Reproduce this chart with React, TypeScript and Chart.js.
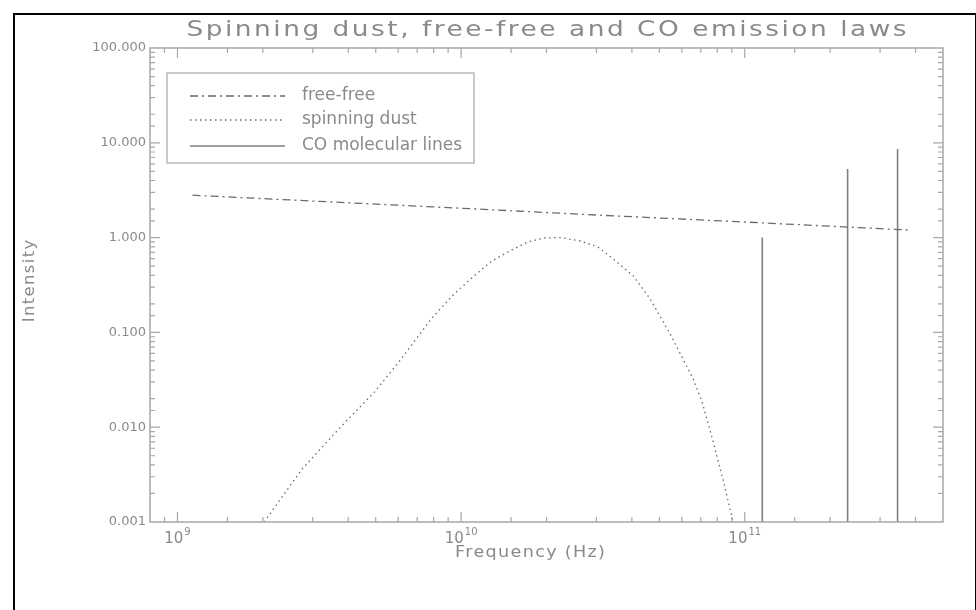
import { useEffect, useRef } from 'react';
import { Chart, registerables } from 'chart.js';
Chart.register(...registerables);

const TEXT = '#8a8a8a';
const AXIS = '#a8a8a8';
const LINE = '#6a6a6a';
const FONT = "'DejaVu Sans', sans-serif";

// Free-free (dash-dot)
const freeFreeFreq = [1.13e9, 3e9, 1e10, 3e10, 1e11, 3.8e11];
const freeFreeIntensity = [2.8, 2.43, 2.04, 1.73, 1.46, 1.2];

// Spinning dust (dotted)
const spinFreq = [2.02e9, 2.75e9, 3.79e9, 4.95e9, 6.15e9, 7.85e9, 9.23e9, 1.08e10, 1.27e10, 1.46e10, 1.72e10, 1.95e10, 2.24e10, 2.64e10, 3.03e10, 3.44e10, 4.05e10, 4.64e10, 5.46e10, 6.58e10, 7.07e10, 7.66e10, 8.37e10, 9.0e10, 9.1e10];
const spinIntensity = [0.001, 0.00362, 0.0103, 0.0235, 0.0525, 0.139, 0.237, 0.366, 0.553, 0.705, 0.9, 0.99, 1.0, 0.92, 0.8, 0.594, 0.394, 0.225, 0.096, 0.0323, 0.0185, 0.0079, 0.00284, 0.00116, 0.001];

// CO molecular lines (vertical)
const coFreq = [1.153e11, 2.305e11, 3.458e11];
const coIntensity = [1.0, 5.3, 8.6];

const xMin = 8e8;
const xMax = 5e11;
const yMin = 0.001;
const yMax = 100;

const TITLE = 'Spinning dust, free-free and CO emission laws';
const X_TITLE = 'Frequency (Hz)';
const Y_TITLE = 'Intensity';

const isPow10 = (v: number) => {
  const l = Math.log10(v);
  return Math.abs(l - Math.round(l)) < 1e-6;
};
const yLabel = (v: number) => (isPow10(v) ? v.toFixed(3) : '');

function spacedText(ctx: any, text: string, x: number, y: number, font: string, spacing: number, align: string, stretch = 1) {
  ctx.save();
  ctx.font = font;
  ctx.letterSpacing = spacing + 'px';
  const w = (ctx.measureText(text).width - spacing) * stretch;
  let sx = x;
  if (align === 'center') sx = x - w / 2;
  else if (align === 'right') sx = x - w;
  ctx.translate(sx, y);
  ctx.scale(stretch, 1);
  ctx.textAlign = 'left';
  ctx.fillText(text, 0, 0);
  ctx.restore();
}

const framePlugin = {
  id: 'idlFrame',
  afterDatasetsDraw(chart: any) {
    const { ctx, chartArea: a, scales } = chart;
    ctx.save();
    ctx.strokeStyle = AXIS;
    ctx.lineWidth = 1.5;
    ctx.strokeRect(a.left, a.top, a.right - a.left, a.bottom - a.top);
    ctx.lineWidth = 1.2;
    ctx.beginPath();
    for (const t of scales.x.ticks) {
      const px = scales.x.getPixelForValue(t.value);
      if (px < a.left + 1 || px > a.right - 1) continue;
      const len = isPow10(t.value) ? 10 : 5;
      ctx.moveTo(px, a.bottom);
      ctx.lineTo(px, a.bottom - len);
      ctx.moveTo(px, a.top);
      ctx.lineTo(px, a.top + len);
    }
    for (const t of scales.y.ticks) {
      const py = scales.y.getPixelForValue(t.value);
      if (py < a.top + 1 || py > a.bottom - 1) continue;
      const len = isPow10(t.value) ? 10 : 5;
      ctx.moveTo(a.left, py);
      ctx.lineTo(a.left + len, py);
      ctx.moveTo(a.right, py);
      ctx.lineTo(a.right - len, py);
    }
    ctx.stroke();
    ctx.restore();
  },
};

const textPlugin = {
  id: 'idlText',
  afterDraw(chart: any) {
    const { ctx, chartArea: a, scales } = chart;
    ctx.save();
    ctx.fillStyle = TEXT;
    ctx.textBaseline = 'middle';
    const titleFont = `22px ${FONT}`;
    const stretch = 1.2;
    ctx.font = titleFont;
    ctx.letterSpacing = '0px';
    const natural = ctx.measureText(TITLE).width * stretch;
    const spacing = Math.max(0, (720 - natural) / (TITLE.length - 1) / stretch);
    spacedText(ctx, TITLE, (a.left + a.right) / 2, 30, titleFont, spacing, 'center', stretch);
    for (const t of scales.x.ticks) {
      if (!isPow10(t.value)) continue;
      const px = scales.x.getPixelForValue(t.value);
      const e = String(Math.round(Math.log10(t.value)));
      ctx.font = `15px ${FONT}`;
      const wb = ctx.measureText('10').width;
      ctx.font = `10px ${FONT}`;
      const we = ctx.measureText(e).width;
      const x0 = px - (wb + we + 1) / 2;
      ctx.textAlign = 'left';
      ctx.font = `15px ${FONT}`;
      ctx.fillText('10', x0, a.bottom + 17);
      ctx.font = `10px ${FONT}`;
      ctx.fillText(e, x0 + wb + 1, a.bottom + 10);
    }
    spacedText(ctx, X_TITLE, 530, 553, `16px ${FONT}`, 1.2, 'center', 1.1);
    ctx.save();
    ctx.translate(30, (a.top + a.bottom) / 2 - 4);
    ctx.rotate(-Math.PI / 2);
    spacedText(ctx, Y_TITLE, 0, 0, `15px ${FONT}`, 1.2, 'center', 1.1);
    ctx.restore();
    ctx.restore();
  },
};

const legendPlugin = {
  id: 'boxLegend',
  afterDraw(chart: any) {
    const { ctx, chartArea: a } = chart;
    const left = a.left + 17;
    const top = a.top + 25;
    const font = `17px ${FONT}`;
    ctx.save();
    ctx.font = font;
    let maxW = 0;
    chart.data.datasets.forEach((ds: any) => {
      maxW = Math.max(maxW, ctx.measureText(ds.label).width);
    });
    ctx.strokeStyle = '#b8b8b8';
    ctx.lineWidth = 1.5;
    ctx.strokeRect(left, top, 135 + maxW + 12, 90);
    const rows = [23, 47, 73];
    chart.data.datasets.forEach((ds: any, i: number) => {
      const y = top + rows[i];
      ctx.beginPath();
      ctx.strokeStyle = ds.borderColor;
      ctx.lineWidth = ds.borderWidth;
      ctx.setLineDash(ds.borderDash || []);
      ctx.moveTo(left + 23, y);
      ctx.lineTo(left + 118, y);
      ctx.stroke();
      ctx.setLineDash([]);
      ctx.fillStyle = TEXT;
      ctx.font = font;
      ctx.textBaseline = 'middle';
      ctx.textAlign = 'left';
      ctx.fillText(ds.label, left + 135, y);
    });
    ctx.restore();
  },
};

function buildCoPoints() {
  const pts: { x: number; y: number }[] = [];
  coFreq.forEach((f, i) => {
    pts.push({ x: f, y: yMin });
    pts.push({ x: f, y: coIntensity[i] });
    pts.push({ x: f, y: NaN });
  });
  return pts;
}

export default function App() {
  const ref = useRef<HTMLCanvasElement>(null);

  useEffect(() => {
    if (!ref.current) return;
    Chart.defaults.font.family = FONT;
    const chart = new Chart(ref.current, {
      type: 'line',
      data: {
        datasets: [
          {
            label: 'free-free',
            data: freeFreeFreq.map((f, i) => ({ x: f, y: freeFreeIntensity[i] })),
            borderColor: LINE,
            borderWidth: 1.3,
            borderDash: [8, 4, 2, 4],
            pointRadius: 0,
            fill: false,
          },
          {
            label: 'spinning dust',
            data: spinFreq.map((f, i) => ({ x: f, y: spinIntensity[i] })),
            borderColor: LINE,
            borderWidth: 1.3,
            borderDash: [1.5, 3.5],
            pointRadius: 0,
            fill: false,
          },
          {
            label: 'CO molecular lines',
            data: buildCoPoints(),
            borderColor: '#808080',
            borderWidth: 1.6,
            borderDash: [],
            pointRadius: 0,
            fill: false,
            spanGaps: false,
          },
        ],
      },
      options: {
        animation: false,
        responsive: false,
        layout: { padding: { left: 0, right: 33, top: 48, bottom: 0 } },
        plugins: {
          legend: { display: false },
          tooltip: { enabled: false },
          title: { display: false },
        },
        scales: {
          x: {
            type: 'logarithmic',
            min: xMin,
            max: xMax,
            grid: { display: false, drawTicks: false },
            border: { display: false },
            ticks: {
              autoSkip: false,
              maxRotation: 0,
              padding: 8,
              color: TEXT,
              font: { size: 14, family: FONT },
              callback: () => '',
            },
            afterFit: (s: any) => {
              s.height = 88;
            },
          },
          y: {
            type: 'logarithmic',
            min: yMin,
            max: yMax,
            grid: { display: false, drawTicks: false },
            border: { display: false },
            ticks: {
              autoSkip: false,
              padding: 4,
              color: TEXT,
              font: { size: 13, family: FONT },
              callback: (v: any) => yLabel(Number(v)),
            },
            afterFit: (s: any) => {
              s.width = 150;
            },
          },
        },
      },
      plugins: [framePlugin, textPlugin, legendPlugin],
    } as any);
    return () => chart.destroy();
  }, []);

  return (
    <div style={{ position: 'absolute', left: 0, top: 0, width: 976, height: 610, overflow: 'hidden', background: '#fff' }}>
      <canvas ref={ref} width={976} height={610} style={{ display: 'block', width: 976, height: 610 }} />
      <div
        style={{
          position: 'absolute',
          left: 13,
          top: 13,
          width: 960,
          height: 640,
          border: '2px solid #000',
          pointerEvents: 'none',
        }}
      />
    </div>
  );
}
